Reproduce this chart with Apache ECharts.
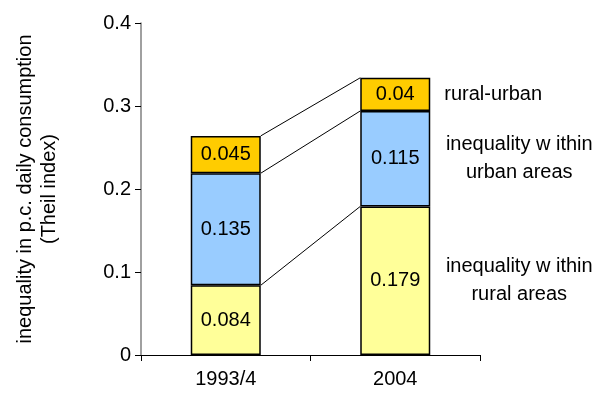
<!DOCTYPE html>
<html>
<head>
<meta charset="utf-8">
<script src="https://cdn.jsdelivr.net/npm/echarts@6/dist/echarts.min.js"></script>
<style>
  html, body { margin: 0; padding: 0; background: #fff; }
  #chart { width: 605px; height: 402px; }
</style>
</head>
<body>
<div id="chart"></div>
<script>
const categories = ["1993/4", "2004"];
const ruralWithin = [0.084, 0.179];
const urbanWithin = [0.135, 0.115];
const ruralUrban = [0.045, 0.04];
const seriesNames = ["inequality w ithin\nrural areas", "inequality w ithin\nurban areas", "rural-urban"];
const seriesColors = ["#FFFF99", "#99CCFF", "#FFCC00"];
const yTicks = [0, 0.1, 0.2, 0.3, 0.4];

const FONT = "Liberation Sans, Arial, sans-serif";
const BAR_W = 70;
const stacks = [ruralWithin, urbanWithin, ruralUrban];

// cumulative tops of each segment, per category
const tops = stacks.map((_, i) =>
  categories.map((_, c) => stacks.slice(0, i + 1).reduce((s, arr) => s + arr[c], 0))
);

const chart = echarts.init(document.getElementById("chart"));

const barSeries = stacks.map((values, i) => ({
  name: seriesNames[i],
  type: "bar",
  stack: "total",
  barWidth: BAR_W,
  data: values,
  itemStyle: {
    color: seriesColors[i],
    borderColor: "#000",
    borderWidth: 1.5
  },
  label: {
    show: true,
    position: "inside",
    color: "#000",
    fontSize: 20,
    fontFamily: FONT
  },
  emphasis: { disabled: true }
}));

// series lines between stacks
const linkSeries = {
  type: "custom",
  silent: true,
  data: tops.map(t => [0, t[0], t[1]]),
  encode: { x: 0, y: 1 },
  z: 1,
  renderItem: (params, api) => {
    const p1 = api.coord([0, api.value(1)]);
    const p2 = api.coord([1, api.value(2)]);
    return {
      type: "line",
      shape: { x1: p1[0] + BAR_W / 2, y1: p1[1], x2: p2[0] - BAR_W / 2, y2: p2[1] },
      style: { stroke: "#000", lineWidth: 1 }
    };
  }
};

// series names beside the last bar
const nameSeries = {
  type: "custom",
  silent: true,
  data: tops.map((t, i) => [1, t[1] - stacks[i][1] / 2, i]),
  encode: { x: 0, y: 1 },
  renderItem: (params, api) => {
    const p = api.coord([1, api.value(1)]);
    const text = seriesNames[api.value(2)];
    const multi = text.indexOf("\n") >= 0;
    return {
      type: "text",
      x: multi ? p[0] + BAR_W / 2 + 89 : p[0] + BAR_W / 2 + 14,
      y: p[1],
      style: {
        text: text,
        fill: "#000",
        font: "20px " + FONT,
        align: multi ? "center" : "left",
        verticalAlign: "middle",
        lineHeight: 28
      }
    };
  }
};

chart.setOption({
  animation: false,
  grid: { left: 141, right: 125, top: 23, bottom: 47 },
  xAxis: {
    type: "category",
    data: categories,
    axisLine: { lineStyle: { color: "#000", width: 1 } },
    axisTick: { show: true, alignWithLabel: false, length: 6, lineStyle: { color: "#000" } },
    axisLabel: { color: "#000", fontSize: 20, fontFamily: FONT, margin: 14 }
  },
  yAxis: {
    type: "value",
    min: 0,
    max: 0.4,
    interval: 0.1,
    name: "inequality in p.c. daily consumption\n(Theil index)",
    nameLocation: "middle",
    nameRotate: 90,
    nameGap: 80,
    nameTextStyle: { color: "#000", fontSize: 20, fontFamily: FONT, lineHeight: 24 },
    splitLine: { show: false },
    axisLine: { show: true, lineStyle: { color: "#808080", width: 1.5 } },
    axisTick: { show: true, length: 6, lineStyle: { color: "#000" } },
    axisLabel: {
      color: "#000",
      fontSize: 20,
      fontFamily: FONT,
      margin: 10,
      formatter: v => {
        const hit = yTicks.find(t => Math.abs(t - v) < 1e-9);
        return hit === undefined ? "" : String(hit);
      }
    }
  },
  series: [...barSeries, linkSeries, nameSeries]
});
</script>
</body>
</html>
